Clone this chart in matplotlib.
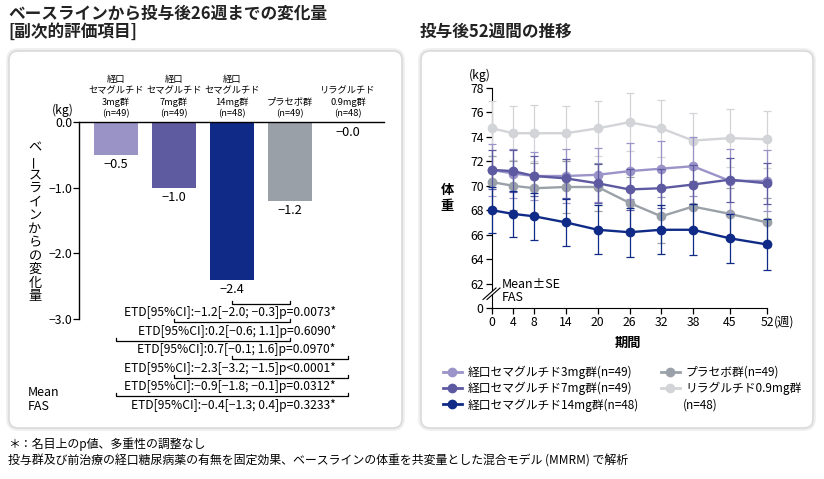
import matplotlib
matplotlib.use("Agg")
import matplotlib.pyplot as plt
from matplotlib.patches import FancyBboxPatch, Polygon
from matplotlib.lines import Line2D

plt.rcParams["font.family"] = ["Noto Sans CJK JP", "DejaVu Sans"]
plt.rcParams["axes.unicode_minus"] = True

W, H = 824, 479

# ---- left chart data (change from baseline at week 26) ----
groups = ["経口\nセマグルチド\n3mg群\n(n=49)", "経口\nセマグルチド\n7mg群\n(n=49)",
          "経口\nセマグルチド\n14mg群\n(n=48)", "プラセボ群\n(n=49)",
          "リラグルチド\n0.9mg群\n(n=48)"]
change = [-0.51, -1.01, -2.41, -1.21, -0.02]
bar_colors = ["#9a94c6", "#5f5ba1", "#0f2b87", "#9aa0a7", "#d3d4d7"]
yticks_left = [0.0, -1.0, -2.0, -3.0]

comparisons = [(2, 3), (1, 3), (0, 3), (2, 4), (1, 4), (0, 4)]
etd_labels = ["ETD[95%CI]:−1.2[−2.0; −0.3]p=0.0073*",
              "ETD[95%CI]:0.2[−0.6; 1.1]p=0.6090*",
              "ETD[95%CI]:0.7[−0.1; 1.6]p=0.0970*",
              "ETD[95%CI]:−2.3[−3.2; −1.5]p<0.0001*",
              "ETD[95%CI]:−0.9[−1.8; −0.1]p=0.0312*",
              "ETD[95%CI]:−0.4[−1.3; 0.4]p=0.3233*"]

# ---- right chart data (body weight over 52 weeks, mean ± SE) ----
weeks = [0, 4, 8, 14, 20, 26, 32, 38, 45, 52]
w_3mg = [71.3, 71.0, 70.8, 70.8, 70.9, 71.2, 71.4, 71.6, 70.4, 70.4]
se_3mg = [2.1, 2.0, 2.0, 2.2, 2.2, 2.3, 2.3, 2.4, 2.6, 2.5]
w_7mg = [71.3, 71.2, 70.8, 70.6, 70.2, 69.7, 69.8, 70.1, 70.5, 70.2]
se_7mg = [1.6, 1.7, 1.6, 1.6, 1.6, 1.7, 1.6, 1.6, 1.8, 1.7]
w_14mg = [68.0, 67.7, 67.5, 67.0, 66.4, 66.2, 66.4, 66.4, 65.7, 65.2]
se_14mg = [1.9, 1.9, 1.9, 1.9, 2.0, 2.0, 2.0, 2.1, 2.0, 2.1]
w_pbo = [70.3, 70.0, 69.8, 69.9, 69.9, 68.6, 67.5, 68.3, 67.7, 67.0]
se_pbo = [2.1, 2.0, 2.1, 2.1, 2.0, 2.1, 2.2, 2.1, 2.1, 2.0]
w_lira = [74.7, 74.3, 74.3, 74.3, 74.7, 75.2, 74.7, 73.7, 73.9, 73.8]
se_lira = [2.25, 2.2, 2.3, 2.25, 2.25, 2.35, 2.35, 2.25, 2.35, 2.35]

legend_col1 = ["経口セマグルチド3mg群(n=49)", "経口セマグルチド7mg群(n=49)",
               "経口セマグルチド14mg群(n=48)"]
legend_col2 = ["プラセボ群(n=49)", "リラグルチド0.9mg群"]
lira_n = "(n=48)"
yticks_right = [60, 62, 64, 66, 68, 70, 72, 74, 76, 78]
ytick_labels_right = ["0", "62", "64", "66", "68", "70", "72", "74", "76", "78"]


def fx(x):
    return x / W


def fy(y):
    return 1 - y / H


def fmt(v):
    return "{:.1f}".format(v).replace("-", "−")


fig = plt.figure(figsize=(W / 100, H / 100), dpi=100)

# panel boxes
for x0, x1 in [(9, 402), (421, 813)]:
    for lw, ec in [(4, "#eeeeee"), (1.2, "#dadada")]:
        box = FancyBboxPatch(((x0) / 100, (H - 428) / 100), (x1 - x0) / 100, (428 - 51) / 100,
                             boxstyle="round,pad=0,rounding_size=0.09",
                             transform=fig.dpi_scale_trans, facecolor="white",
                             edgecolor=ec, linewidth=lw, zorder=-10)
        fig.patches.append(box)

# titles
fig.text(fx(8), fy(14), "ベースラインから投与後26週までの変化量", fontsize=12,
         fontweight="bold", va="center", color="#222222")
fig.text(fx(8), fy(32), "[副次的評価項目]", fontsize=12, fontweight="bold",
         va="center", color="#222222")
fig.text(fx(420), fy(32), "投与後52週間の推移", fontsize=12, fontweight="bold",
         va="center", color="#222222")

# ---------- left bar chart ----------
ax1 = fig.add_axes([fx(79), fy(319), fx(384 - 79), (319 - 122) / H])
xs = list(range(len(change)))
ax1.bar(xs, change, width=0.76, color=bar_colors, zorder=2)
ax1.set_xlim(-0.64, 4.62)
ax1.set_ylim(-3.0, 0.0)
ax1.spines["right"].set_visible(False)
ax1.spines["bottom"].set_visible(False)
ax1.spines["top"].set_zorder(3)
ax1.set_xticks([])
ax1.set_yticks(yticks_left)
ax1.set_yticklabels([fmt(v) for v in yticks_left], fontsize=8.8)
ax1.tick_params(axis="y", length=4, width=0.9, pad=1)
for s in ["left", "top"]:
    ax1.spines[s].set_linewidth(1.0)
ax1.patch.set_alpha(0)

for x, v, g in zip(xs, change, groups):
    ax1.annotate(fmt(v), (x, v), xytext=(0, -2), textcoords="offset points",
                 ha="center", va="top", fontsize=9.2)
    ax1.text(x, 0.055, g, ha="center", va="bottom", fontsize=6.7, linespacing=1.3)

ax1.text(-0.64 - 0.28, 0.08, "(kg)", ha="center", va="bottom", fontsize=8.8)

# comparison brackets
for i, ((a, b), lab) in enumerate(zip(comparisons, etd_labels)):
    yb = -2.77 - i * 0.282
    ax1.plot([a, a, b, b], [yb + 0.05, yb, yb, yb + 0.05], color="black",
             lw=0.9, clip_on=False)
    ax1.text(3.79, yb - 0.135, lab, ha="right", va="center", fontsize=8.7)

# vertical y label
ylab = "ベースラインからの変化量"
for i, ch in enumerate(ylab):
    fig.text(fx(35), fy(148 + i * 13.5), ch, ha="center", va="center", fontsize=9.5,
             rotation=90 if ch == "ー" else 0)

fig.text(fx(28), fy(399), "Mean\nFAS", ha="left", va="center", fontsize=9,
         linespacing=1.1)

# ---------- right line chart ----------
ax2 = fig.add_axes([fx(492), fy(308), fx(767 - 492), (308 - 88) / H])
series = [(w_lira, se_lira, "#d3d4d7"), (w_pbo, se_pbo, "#9aa1a8"),
          (w_3mg, se_3mg, "#9a94c8"), (w_7mg, se_7mg, "#5e5aa2"),
          (w_14mg, se_14mg, "#0f2b87")]
for z, (m, se, c) in enumerate(series):
    cont = ax2.errorbar(weeks, m, yerr=se, color=c, marker="o", ms=6, lw=1.7,
                        elinewidth=0.9, capsize=3, capthick=0.9, zorder=3 + z,
                        clip_on=False)
    for art in cont.get_children():
        art.set_clip_on(False)

ax2.set_xlim(0, 52)
ax2.set_ylim(60, 78)
ax2.set_xticks(weeks)
ax2.set_xticklabels([str(w) for w in weeks], fontsize=8.8)
ax2.set_yticks(yticks_right)
ax2.set_yticklabels(ytick_labels_right, fontsize=8.8)
ax2.tick_params(length=4, width=0.9, pad=2)
ax2.spines["right"].set_visible(False)
ax2.spines["top"].set_visible(False)
ax2.patch.set_alpha(0)

fig.text(fx(774), fy(322), "(週)", ha="left", va="center", fontsize=8.8)
fig.text(fx(480), fy(75), "(kg)", ha="center", va="center", fontsize=8.8)
fig.text(fx(628), fy(343), "期間", ha="center", va="center", fontsize=9.5, fontweight="bold")
fig.text(fx(447), fy(198), "体\n重", ha="center", va="center", fontsize=9.5,
         fontweight="bold", linespacing=1.1)
fig.text(fx(502), fy(291), "Mean±SE\nFAS", ha="left", va="center", fontsize=9,
         linespacing=1.05)

# axis break mark
gap = Polygon([[fx(484), fy(298.5)], [fx(495), fy(289)], [fx(499), fy(289)], [fx(488), fy(298.5)]],
              closed=True, transform=fig.transFigure, facecolor="white", edgecolor="none",
              zorder=10)
fig.patches.append(gap)
for dx in (0, 4):
    fig.lines.append(Line2D([fx(483 + dx), fx(496 + dx)], [fy(299.5), fy(288)],
                            transform=fig.transFigure, color="black", lw=0.8, zorder=11))

# legend, two columns placed separately
leg_kw = dict(loc="upper left", frameon=False, fontsize=8.5, handlelength=1.6,
              handletextpad=0.5, labelspacing=0.24, borderpad=0)
h1 = [Line2D([], [], color=series[k][2], marker="o", ms=6, lw=2) for k in (2, 3, 4)]
h2 = [Line2D([], [], color=series[k][2], marker="o", ms=6, lw=2) for k in (1, 0)]
fig.legend(h1, legend_col1, bbox_to_anchor=(fx(437), fy(360)), **leg_kw)
fig.legend(h2, legend_col2, bbox_to_anchor=(fx(655), fy(360)), **leg_kw)
fig.text(fx(683), fy(405), lira_n, ha="left", va="center", fontsize=8.5)

# footnotes
fig.text(fx(8), fy(444), "＊：名目上のp値、多重性の調整なし", ha="left", va="center",
         fontsize=8.6)
fig.text(fx(8), fy(461),
         "投与群及び前治療の経口糖尿病薬の有無を固定効果、ベースラインの体重を共変量とした混合モデル (MMRM) で解析",
         ha="left", va="center", fontsize=8.6)

fig.savefig("out.png", dpi=100)
